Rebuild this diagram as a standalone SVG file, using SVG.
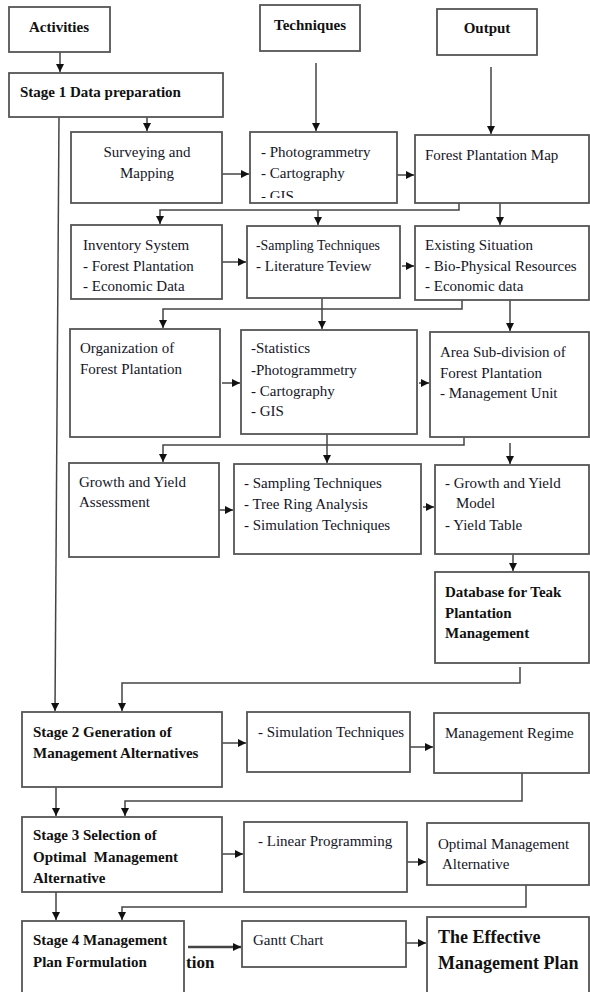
<svg xmlns="http://www.w3.org/2000/svg" width="590" height="992" viewBox="0 0 590 992">
<style>
.box{fill:#fff;stroke:#555;stroke-width:1.8}
.c{fill:none;stroke:#444;stroke-width:1.5}
.t{font-family:"Liberation Serif","Times New Roman",serif;font-size:15px;fill:#15151f}
.b{font-family:"Liberation Serif","Times New Roman",serif;font-size:15px;font-weight:bold;fill:#111}
.m{text-anchor:middle}
</style>
<defs>
<marker id="ah" markerUnits="userSpaceOnUse" markerWidth="9" markerHeight="9" refX="8" refY="4" orient="auto">
<path d="M0,0 L8,4 L0,8 z" fill="#111"/>
</marker>
<clipPath id="clipPhoto"><rect x="250" y="132" width="147" height="66"/></clipPath>
</defs>
<rect width="590" height="992" fill="#fff"/>
<g id="connectors" marker-end="url(#ah)">
<path class="c" d="M60,52 V72"/>
<path class="c" d="M316,63 V131"/>
<path class="c" d="M491,67 V134"/>
<path class="c" d="M147,117 V131"/>
<path class="c" d="M59,117 L55,711"/>
<path class="c" d="M222,174 H249"/>
<path class="c" d="M397,175 H414"/>
<path class="c" d="M459,203 V210 H160 V224"/>
<path class="c" d="M318,210 V225"/>
<path class="c" d="M500,203 V225"/>
<path class="c" d="M222,262 H246"/>
<path class="c" d="M402,266 H414"/>
<path class="c" d="M462,300 V309 H163 V328"/>
<path class="c" d="M322,298 V329"/>
<path class="c" d="M510,300 V331"/>
<path class="c" d="M222,383 H240"/>
<path class="c" d="M419,383 H429"/>
<path class="c" d="M464,437 V445 H163 V462"/>
<path class="c" d="M327,434 V463"/>
<path class="c" d="M510,443 V464"/>
<path class="c" d="M219,510 H233"/>
<path class="c" d="M423,507 H434"/>
<path class="c" d="M513,554 V571"/>
<path class="c" d="M520,667 V683 H122 V711"/>
<path class="c" d="M222,743 H246"/>
<path class="c" d="M410,747 H433"/>
<path class="c" d="M522,773 V801 H125 V816"/>
<path class="c" d="M56,787 V816"/>
<path class="c" d="M222,854 H243"/>
<path class="c" d="M407,862 H426"/>
<path class="c" d="M526,885 V907 H122 V920"/>
<path class="c" d="M56,892 V920"/>
<path class="c" style="stroke-width:2.5" d="M188,947 H241"/>
<path class="c" d="M406,943 H426"/>
</g>
<g id="activities"><rect class="box" x="9" y="7" width="101" height="45"/><text class="b m" x="59" y="32">Activities</text></g>
<g id="techniques"><rect class="box" x="260" y="5" width="100" height="46"/><text class="b m" x="310" y="30">Techniques</text></g>
<g id="output"><rect class="box" x="437" y="9" width="100" height="46"/><text class="b m" x="487" y="33">Output</text></g>
<g id="stage1"><rect class="box" x="9" y="73" width="214" height="44"/><text class="b" x="20" y="97">Stage 1 Data preparation</text></g>
<g id="surveying"><rect class="box" x="71" y="132" width="151" height="71"/><text class="t m" x="147" y="157">Surveying and</text><text class="t m" x="147" y="178">Mapping</text></g>
<g id="photo"><rect class="box" x="250" y="132" width="147" height="71"/><g clip-path="url(#clipPhoto)"><text class="t" x="261" y="157">- Photogrammetry</text><text class="t" x="261" y="178">- Cartography</text><text class="t" x="261" y="201">- GIS</text></g></g>
<g id="fpm"><rect class="box" x="415" y="135" width="174" height="68"/><text class="t" x="425" y="160">Forest Plantation Map</text></g>
<g id="inventory"><rect class="box" x="71" y="225" width="151" height="74"/><text class="t" x="83" y="250">Inventory System</text><text class="t" x="83" y="271">- Forest Plantation</text><text class="t" x="83" y="291">- Economic Data</text></g>
<g id="sampling"><rect class="box" x="247" y="226" width="153" height="72"/><text class="t" x="256" y="250" textLength="124" lengthAdjust="spacingAndGlyphs">-Sampling Techniques</text><text class="t" x="256" y="271">- Literature Teview</text></g>
<g id="existing"><rect class="box" x="415" y="226" width="174" height="74"/><text class="t" x="425" y="250">Existing Situation</text><text class="t" x="425" y="271">- Bio-Physical Resources</text><text class="t" x="425" y="291">- Economic data</text></g>
<g id="organization"><rect class="box" x="70" y="329" width="150" height="108"/><text class="t" x="80" y="353">Organization of</text><text class="t" x="80" y="374">Forest Plantation</text></g>
<g id="statistics"><rect class="box" x="241" y="330" width="176" height="104"/><text class="t" x="251" y="353">-Statistics</text><text class="t" x="251" y="375">-Photogrammetry</text><text class="t" x="251" y="396">- Cartography</text><text class="t" x="251" y="416">- GIS</text></g>
<g id="area"><rect class="box" x="430" y="332" width="159" height="105"/><text class="t" x="440" y="357">Area Sub-division of</text><text class="t" x="440" y="378">Forest Plantation</text><text class="t" x="440" y="398">- Management Unit</text></g>
<g id="growth"><rect class="box" x="69" y="463" width="150" height="94"/><text class="t" x="79" y="487">Growth and Yield</text><text class="t" x="79" y="507">Assessment</text></g>
<g id="sampling2"><rect class="box" x="234" y="464" width="187" height="90"/><text class="t" x="244" y="488">- Sampling Techniques</text><text class="t" x="244" y="509">- Tree Ring Analysis</text><text class="t" x="244" y="530">- Simulation Techniques</text></g>
<g id="yield"><rect class="box" x="435" y="465" width="154" height="89"/><text class="t" x="445" y="488">- Growth and Yield</text><text class="t" x="456" y="508">Model</text><text class="t" x="445" y="530">- Yield Table</text></g>
<g id="database"><rect class="box" x="435" y="572" width="154" height="91"/><text class="b" x="445" y="597">Database for Teak</text><text class="b" x="445" y="618">Plantation</text><text class="b" x="445" y="638">Management</text></g>
<g id="stage2"><rect class="box" x="22" y="712" width="200" height="75"/><text class="b" x="33" y="737">Stage 2 Generation of</text><text class="b" x="33" y="758">Management Alternatives</text></g>
<g id="simulation"><rect class="box" x="247" y="712" width="163" height="60"/><text class="t" x="258" y="737">- Simulation Techniques</text></g>
<g id="regime"><rect class="box" x="434" y="713" width="155" height="60"/><text class="t" x="445" y="738">Management Regime</text></g>
<g id="stage3"><rect class="box" x="22" y="817" width="200" height="75"/><text class="b" x="33" y="840">Stage 3 Selection of</text><text class="b" x="33" y="862" xml:space="preserve">Optimal  Management</text><text class="b" x="33" y="883">Alternative</text></g>
<g id="lp"><rect class="box" x="244" y="822" width="163" height="70"/><text class="t" x="258" y="846">- Linear Programming</text></g>
<g id="optimal"><rect class="box" x="427" y="823" width="162" height="62"/><text class="t" x="438" y="849">Optimal Management</text><text class="t" x="442" y="869">Alternative</text></g>
<g id="stage4"><text class="b" x="186" y="968" style="font-size:17px">tion</text><rect class="box" x="22" y="921" width="162" height="80"/><text class="b" x="33" y="945">Stage 4 Management</text><text class="b" x="33" y="967">Plan Formulation</text></g>
<g id="gantt"><rect class="box" x="242" y="921" width="164" height="46"/><text class="t" x="253" y="945">Gantt Chart</text></g>
<g id="effective"><rect class="box" x="427" y="917" width="162" height="84"/><text class="b" x="438" y="943" style="font-size:18px">The Effective</text><text class="b" x="438" y="969" style="font-size:18px">Management Plan</text></g>
</svg>
